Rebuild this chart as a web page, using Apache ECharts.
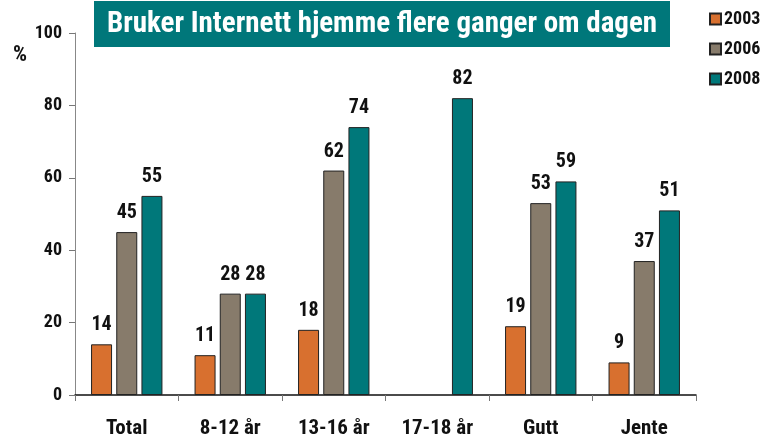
<!DOCTYPE html>
<html>
<head>
<meta charset="utf-8">
<script src="https://cdn.jsdelivr.net/npm/echarts@6/dist/echarts.min.js"></script>
<style>
  html, body { margin: 0; padding: 0; background: #fff; }
  #chart { width: 763px; height: 441px; }
</style>
</head>
<body>
<div id="chart"></div>
<script>
// data
const categories = ["Total", "8-12 år", "13-16 år", "17-18 år", "Gutt", "Jente"];
const years = ["2003", "2006", "2008"];
const v2003 = [14, 11, 18, null, 19, 9];
const v2006 = [45, 28, 62, null, 53, 37];
const v2008 = [55, 28, 74, 82, 59, 51];
const colors = ["#D8702F", "#877B6B", "#00787A"];
const titleText = "Bruker Internett hjemme flere ganger om dagen";

const font = "'Roboto Condensed', 'Liberation Sans', sans-serif";

const chart = echarts.init(document.getElementById("chart"));

const makeSeries = (name, data, color) => ({
  name: name,
  type: "bar",
  data: data,
  barWidth: 21,
  barGap: "20%",
  itemStyle: { color: color, borderColor: "#222", borderWidth: 1 },
  label: {
    show: true,
    position: "top",
    distance: 9,
    color: "#111",
    fontFamily: font,
    fontWeight: "bold",
    fontSize: 20,
  },
});

chart.setOption({
  animation: false,
  legend: {
    orient: "vertical",
    left: 704,
    top: 5,
    itemWidth: 11,
    itemHeight: 11,
    itemGap: 12,
    icon: "rect",
    data: years,
    textStyle: {
      color: "#111",
      fontFamily: font,
      fontWeight: "bold",
      fontSize: 18,
      padding: [0, 0, 0, -2],
    },
  },
  graphic: [
    {
      type: "rect",
      left: 94,
      top: 1,
      shape: { width: 576, height: 46 },
      style: { fill: "#00777A" },
      z: 10,
    },
    {
      type: "text",
      x: 382,
      y: 25,
      z: 11,
      style: {
        text: titleText,
        fill: "#fff",
        font: "bold 29px " + font,
        align: "center",
        verticalAlign: "middle",
      },
    },
    {
      type: "text",
      x: 20,
      y: 55,
      style: {
        text: "%",
        fill: "#111",
        font: "bold 22px " + font,
        align: "center",
        verticalAlign: "middle",
      },
    },
  ],
  grid: { left: 75, right: 67, top: 33, bottom: 46 },
  xAxis: {
    type: "category",
    data: categories,
    axisLine: { lineStyle: { color: "#111", width: 1.5 } },
    axisTick: { show: true, length: 6, lineStyle: { color: "#777" } },
    axisLabel: {
      color: "#111",
      fontFamily: font,
      fontWeight: "bold",
      fontSize: 21,
      margin: 23,
    },
  },
  yAxis: {
    type: "value",
    min: 0,
    max: 100,
    interval: 20,
    splitLine: { show: false },
    axisLine: { show: true, lineStyle: { color: "#888" } },
    axisTick: { show: true, length: 6, lineStyle: { color: "#777" } },
    axisLabel: {
      color: "#111",
      fontFamily: font,
      fontWeight: "bold",
      fontSize: 18,
      margin: 13,
    },
  },
  series: [
    makeSeries(years[0], v2003, colors[0]),
    makeSeries(years[1], v2006, colors[1]),
    makeSeries(years[2], v2008, colors[2]),
  ],
});
</script>
</body>
</html>
